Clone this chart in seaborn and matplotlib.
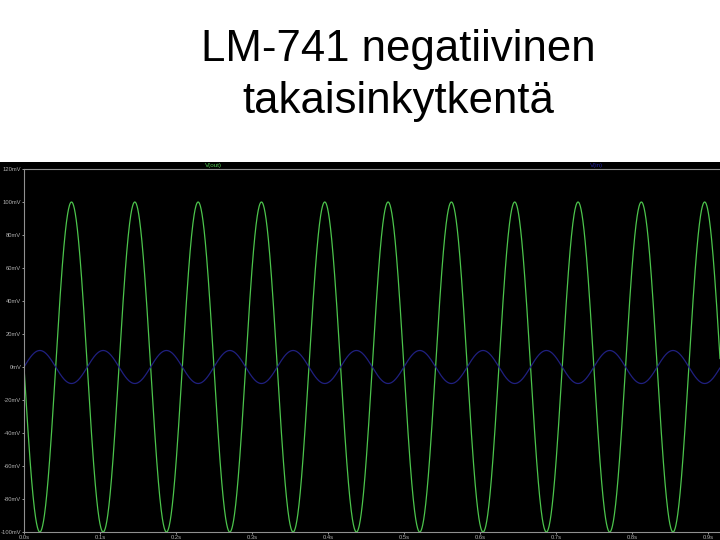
import numpy as np
import pandas as pd
import matplotlib
matplotlib.use("Agg")
import matplotlib.pyplot as plt
import seaborn as sns

# signal parameters
freq_hz = 12.0
out_amp_mv = -100.0   # V(out), inverted
in_amp_mv = 10.0      # V(in)
t_end = 0.916

y_ticks = [120, 100, 80, 60, 40, 20, 0, -20, -40, -60, -80, -100]
y_labels = ["120mV", "100mV", "80mV", "60mV", "40mV", "20mV", "0mV",
            "-20mV", "-40mV", "-60mV", "-80mV", "-100mV"]
x_ticks = [0.0, 0.1, 0.2, 0.3, 0.4, 0.5, 0.6, 0.7, 0.8, 0.9]
x_labels = ["0.0s", "0.1s", "0.2s", "0.3s", "0.4s", "0.5s", "0.6s", "0.7s", "0.8s", "0.9s"]

t = np.linspace(0, t_end, 3000)
df = pd.DataFrame({
    "time": np.concatenate([t, t]),
    "mv": np.concatenate([out_amp_mv * np.sin(2 * np.pi * freq_hz * t),
                          in_amp_mv * np.sin(2 * np.pi * freq_hz * t)]),
    "trace": ["V(out)"] * len(t) + ["V(in)"] * len(t),
})

sns.set_style("white")
plt.rcParams["font.family"] = ["Liberation Sans", "DejaVu Sans"]

fig = plt.figure(figsize=(7.2, 5.4), dpi=100)
fig.patch.set_facecolor("white")

bg = fig.add_axes([0, 0, 1, 378 / 540])
bg.set_facecolor("black")
bg.set_xticks([])
bg.set_yticks([])
for s in bg.spines.values():
    s.set_visible(False)

ax = fig.add_axes([24 / 720, 8 / 540, 1 - 24 / 720, 363 / 540])
ax.set_facecolor("black")
sns.lineplot(data=df, x="time", y="mv", hue="trace",
             palette={"V(out)": "#4cc44c", "V(in)": "#202080"},
             linewidth=0.9, legend=False, ax=ax, sort=False, estimator=None)
ax.set_xlim(0, t_end)
ax.set_ylim(-100, 120)
ax.set_yticks(y_ticks)
ax.set_yticklabels(y_labels)
ax.set_xticks(x_ticks)
ax.set_xticklabels(x_labels)
ax.set_xlabel("")
ax.set_ylabel("")
ax.tick_params(colors="#b0b0b0", labelsize=4.2, length=1.5, width=0.6, pad=0.5,
               direction="out", left=True, bottom=True)
for side in ["left", "top", "bottom"]:
    ax.spines[side].set_color("#909090")
    ax.spines[side].set_linewidth(0.8)
ax.spines["right"].set_visible(False)

fig.text(213 / 720, 1 - 165 / 540, "V(out)", color="#52cc52", fontsize=4.5,
         ha="center", va="center")
fig.text(597 / 720, 1 - 165 / 540, "V(in)", color="#2020a0", fontsize=4.5,
         ha="center", va="center")

fig.text(398 / 720, 1 - 50 / 540, "LM-741 negatiivinen", fontsize=31.5,
         ha="center", va="center", color="black")
fig.text(398 / 720, 1 - 102 / 540, "takaisinkytkentä", fontsize=31.5,
         ha="center", va="center", color="black")

fig.savefig("out.png", dpi=100, facecolor="white")
